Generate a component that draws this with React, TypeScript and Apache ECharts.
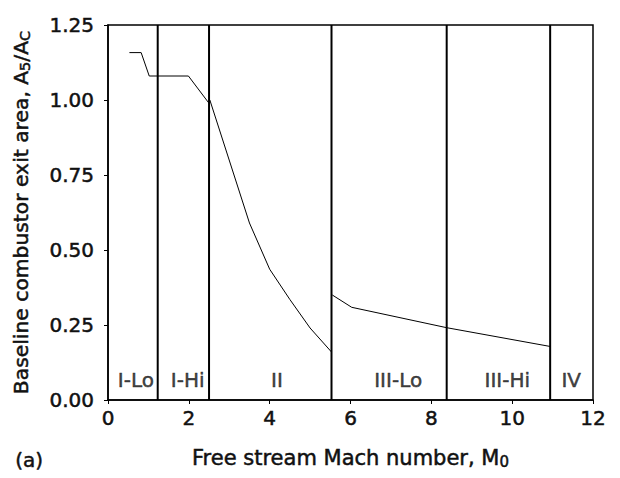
import React, { useEffect, useRef } from "react";
import * as echarts from "echarts";

const xTicks = [0, 2, 4, 6, 8, 10, 12];
const yTicks = [0, 0.25, 0.5, 0.75, 1.0, 1.25];

// Region I (Lo + Hi) curve
const regionI: [number, number][] = [
  [0.53, 1.158],
  [0.82, 1.158],
  [1.02, 1.08],
  [1.99, 1.08],
  [2.5, 0.989],
];
// Region II curve
const regionII: [number, number][] = [
  [2.52, 1.0],
  [3.5, 0.59],
  [4.0, 0.436],
  [4.5, 0.335],
  [5.0, 0.24],
  [5.53, 0.16],
];
// Region III curve
const regionIII: [number, number][] = [
  [5.55, 0.35],
  [6.03, 0.309],
  [8.38, 0.241],
  [10.96, 0.178],
];

const boundaries = [1.23, 2.5, 5.53, 8.38, 10.94];
const regionNames = ["I-Lo", "I-Hi", "II", "III-Lo", "III-Hi", "IV"];
const regionLabelX = [0.69, 1.97, 4.18, 7.18, 9.88, 11.46];
const regionLabelY = 0.067;

const FONT = "'DejaVu Sans', Verdana, sans-serif";
const FW = "normal";
const TXT = "#111";
const FS = 20;
const BW = 0.5;

export default function App() {
  const ref = useRef<HTMLDivElement>(null);
  useEffect(() => {
    if (!ref.current) return;
    const chart = echarts.init(ref.current, null, { renderer: "svg" });
    const boundarySeries = boundaries.map((b, i) => ({
      type: "line",
      name: "boundary" + i,
      data: [
        [b, 0],
        [b, 1.25],
      ],
      symbol: "none",
      lineStyle: { color: "#000", width: 2 },
      silent: true,
      z: 3,
    }));
    const textBase = {
      fontWeight: FW,
      color: TXT,
      fontFamily: FONT,
      textBorderColor: TXT,
      textBorderWidth: BW,
    };
    const richX = {
      a: { ...textBase, fontSize: 21 },
      s: { ...textBase, fontSize: 15, padding: [8, 0, 0, 0] },
    };
    const richY = {
      a: { ...textBase, fontSize: 20.3 },
      s: { ...textBase, fontSize: 14.5, padding: [8, 0, 0, 0] },
    };
    chart.setOption({
      animation: false,
      backgroundColor: "#fff",
      textStyle: { fontFamily: FONT },
      grid: {
        left: 108,
        right: 27,
        top: 25,
        bottom: 78,
        show: true,
        borderColor: "#000",
        borderWidth: 1.5,
      },
      xAxis: {
        type: "value",
        min: 0,
        max: 12,
        interval: 2,
        name: "{a|Free stream Mach number, M}{s|0}",
        nameLocation: "middle",
        nameGap: 46,
        nameTextStyle: { rich: richX },
        axisLine: { lineStyle: { color: "#000", width: 1.5 } },
        axisTick: { show: true, inside: false, length: 4, lineStyle: { color: "#000" } },
        axisLabel: {
          ...textBase,
          fontSize: FS,
          margin: 8,
          formatter: (v: number) => (xTicks.includes(v) ? String(v) : ""),
        },
        splitLine: { show: false },
      },
      yAxis: {
        type: "value",
        min: 0,
        max: 1.25,
        interval: 0.25,
        name: "{a|Baseline combustor exit area, A}{s|5}{a|/A}{s|C}",
        nameLocation: "middle",
        nameGap: 76,
        nameTextStyle: { rich: richY },
        axisLine: { show: true, lineStyle: { color: "#000", width: 1.5 } },
        axisTick: { show: true, inside: false, length: 4, lineStyle: { color: "#000" } },
        axisLabel: {
          ...textBase,
          fontSize: FS,
          margin: 14,
          formatter: (v: number) => {
            const t = yTicks.find((y) => Math.abs(y - v) < 1e-9);
            return t === undefined ? "" : t.toFixed(2);
          },
        },
        splitLine: { show: false },
      },
      graphic: [
        {
          type: "text",
          left: 15,
          top: 450,
          style: {
            text: "(a)",
            fontSize: FS,
            fontWeight: FW,
            fill: TXT,
            stroke: TXT,
            lineWidth: BW,
            fontFamily: FONT,
          },
        },
      ],
      series: [
        {
          type: "line",
          data: regionI,
          symbol: "none",
          lineStyle: { color: "#000", width: 1 },
          z: 4,
        },
        {
          type: "line",
          data: regionII,
          symbol: "none",
          lineStyle: { color: "#000", width: 1 },
          z: 4,
        },
        {
          type: "line",
          data: regionIII,
          symbol: "none",
          lineStyle: { color: "#000", width: 1 },
          z: 4,
        },
        ...boundarySeries,
        {
          type: "scatter",
          symbolSize: 0,
          data: regionNames.map((n, i) => ({ value: [regionLabelX[i], regionLabelY], name: n })),
          label: {
            ...textBase,
            show: true,
            position: "inside",
            formatter: (p: any) => p.name,
            fontSize: FS,
          },
          silent: true,
          z: 5,
        },
      ],
    });
    return () => chart.dispose();
  }, []);
  return (
    <div
      ref={ref}
      style={{ position: "absolute", left: 0, top: 0, width: 620, height: 478 }}
    />
  );
}
